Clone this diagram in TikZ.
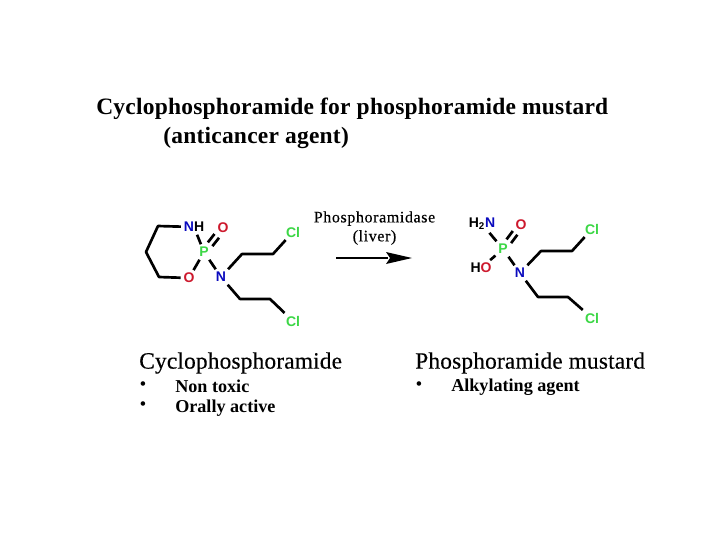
\documentclass[tikz,border=0pt]{standalone}
\usepackage{fontspec}
\setmainfont{Liberation Serif}
\setsansfont{Liberation Sans}
\newfontfamily\titlefont[LetterSpace=1]{Liberation Serif Bold}
\newfontfamily\headfont[LetterSpace=0.8,FakeBold=0.3]{Liberation Serif}
\newfontfamily\enzfont[LetterSpace=3.8,FakeBold=0.3]{Liberation Serif}
\tikzset{
  atom/.style={inner sep=2pt,font=\sffamily\bfseries\fontsize{10.5}{12}\selectfont},
  bond/.style={draw,line width=2pt,line join=round},
  head/.style={anchor=west,inner sep=0pt,font=\headfont\fontsize{17.5}{20}\selectfont},
  title/.style={anchor=west,inner sep=0pt,font=\titlefont\fontsize{17.6}{20}\selectfont},
  item/.style={anchor=west,inner sep=0pt,font=\bfseries\fontsize{13.6}{15}\selectfont},
  dot/.style={inner sep=0pt,font=\bfseries\fontsize{12.5}{14}\selectfont},
}
\definecolor{nblue}{RGB}{10,10,190}
\definecolor{ored}{RGB}{205,25,45}
\definecolor{pgreen}{RGB}{60,215,70}
\begin{document}
\begin{tikzpicture}[x=0.75pt,y=-0.75pt]
\useasboundingbox (0,0) rectangle (720,540);
\fill[white] (0,0) rectangle (720,540);
% title
\node[title] (title1) at (96,109) {Cyclophosphoramide for phosphoramide mustard};
\node[title] (title2) at (163,138) {(anticancer agent)};
% left molecule
\node[atom] (a1) at (194,227) {\textcolor{nblue}{N}H};
\node[atom,text=ored] (a2) at (223,228) {O};
\node[atom,text=pgreen] (a3) at (204,252) {P};
\node[atom,text=ored] (a4) at (189,278) {O};
\node[atom,text=nblue] (a5) at (221,277) {N};
\node[atom,text=pgreen] (a6) at (293,232) {Cl};
\node[atom,text=pgreen] (a7) at (293,321) {Cl};
\coordinate (r1) at (158,226);
\coordinate (r2) at (146,252);
\coordinate (r3) at (159,277);
\coordinate (c1) at (242,254);
\coordinate (c2) at (273,254);
\coordinate (c3) at (240,299);
\coordinate (c4) at (270,299);
\path[bond] (a1) -- (r1) -- (r2) -- (r3) -- (a4);
\path[bond] (a1) -- (a3);
\path[bond] (a3) -- (a4);
\path[bond] (a3) -- (a5);
\path[bond,transform canvas={shift={(-1.7pt,1.4pt)}}] (a3) -- (a2);
\path[bond,transform canvas={shift={(1.7pt,-1.4pt)}}] (a3) -- (a2);
\path[bond] (a5) -- (c1) -- (c2) -- (a6);
\path[bond] (a5) -- (c3) -- (c4) -- (a7);
% arrow
\node[inner sep=0pt,align=center,font=\enzfont\fontsize{12}{14.2}\selectfont] (enz) at (374.5,228) {Phosphoramidase\\(liver)};
\coordinate (s) at (336,258);
\coordinate (e) at (412,258);
\path[draw,line width=2pt] (s) -- (388,258);
\fill (e) -- (386,252) -- (390,258) -- (386,264) -- cycle;
% right molecule
\node[atom] (b1) at (482,224) {H\textsubscript{2}\textcolor{nblue}{N}};
\node[atom,text=ored] (b2) at (521,225) {O};
\node[atom,text=pgreen] (b3) at (503,249) {P};
\node[atom] (b4) at (481,268) {H\textcolor{ored}{O}};
\node[atom,text=nblue] (b5) at (520,273) {N};
\node[atom,text=pgreen] (b6) at (592,229) {Cl};
\node[atom,text=pgreen] (b7) at (592,318) {Cl};
\coordinate (d1) at (541,251);
\coordinate (d2) at (572,251);
\coordinate (d3) at (538,297);
\coordinate (d4) at (568,297);
\path[bond] (b1) -- (b3);
\path[bond] (b3) -- (b4);
\path[bond] (b3) -- (b5);
\path[bond,transform canvas={shift={(-1.7pt,1.4pt)}}] (b3) -- (b2);
\path[bond,transform canvas={shift={(1.7pt,-1.4pt)}}] (b3) -- (b2);
\path[bond] (b5) -- (d1) -- (d2) -- (b6);
\path[bond] (b5) -- (d3) -- (d4) -- (b7);
% lists
\node[head] (h1) at (139,363) {Cyclophosphoramide};
\node[head] (h2) at (415,363) {Phosphoramide mustard};
\node[dot] (u1) at (143,386) {•};
\node[dot] (u2) at (143,406) {•};
\node[dot] (u3) at (419,386) {•};
\node[item] (t1) at (175,386.5) {Non toxic};
\node[item] (t2) at (175,408) {Orally active};
\node[item] (t3) at (451,387.5) {Alkylating agent};
\end{tikzpicture}
\end{document}
